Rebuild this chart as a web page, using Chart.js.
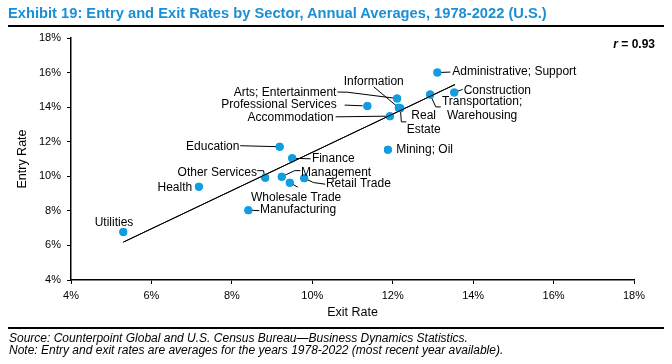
<!DOCTYPE html>
<html><head><meta charset="utf-8">
<script src="https://cdn.jsdelivr.net/npm/chart.js@4"></script>
<style>
html,body{margin:0;padding:0;background:#fff;}
#wrap{position:relative;width:672px;height:364px;overflow:hidden;font-family:"Liberation Sans",Arial,sans-serif;}
#c{position:absolute;left:0;top:0;}
.t{position:absolute;white-space:nowrap;line-height:1;}
#title{left:8px;top:6px;font-size:14.7px;font-weight:bold;color:#1a8fd5;}
.rule{position:absolute;left:8px;width:656px;height:2px;background:#000;}
#rv{right:17px;top:38px;font-size:12px;font-weight:bold;}
.foot{left:9px;font-size:12px;font-style:italic;color:#000;}
</style></head>
<body><div id="wrap">
<canvas id="c" width="672" height="364"></canvas>
<div class="t" id="title">Exhibit 19: Entry and Exit Rates by Sector, Annual Averages, 1978-2022 (U.S.)</div>
<div class="rule" style="top:25px"></div>
<div class="t" id="rv"><i>r</i> = 0.93</div>
<div class="rule" style="top:327px"></div>
<div class="t foot" style="top:332px">Source: Counterpoint Global and U.S. Census Bureau—Business Dynamics Statistics.</div>
<div class="t foot" style="top:344px">Note: Entry and exit rates are averages for the years 1978-2022 (most recent year available).</div>
</div>
<script>
// ---- data ----
const sectors = ["Administrative; Support","Construction","Transportation; Warehousing","Arts; Entertainment","Information","Real Estate","Professional Services","Accommodation","Mining; Oil","Education","Finance","Other Services","Management","Wholesale Trade","Retail Trade","Health","Manufacturing","Utilities"];
const exitRate  = [13.11,13.53,12.93,12.11,12.15,12.19,11.37,11.93,11.88,9.19,9.50,8.83,9.24,9.44,9.80,7.18,8.41,5.30];
const entryRate = [16.00,14.85,14.73,14.50,13.96,13.93,14.06,13.48,11.54,11.71,11.04,9.92,9.98,9.63,9.89,9.40,8.04,6.77];
const trendX = [5.30,13.55];
const trendY = [6.19,15.31];
const xTickLabels = ["4%","6%","8%","10%","12%","14%","16%","18%"];
const yTickLabels = ["4%","6%","8%","10%","12%","14%","16%","18%"];

// ---- label layout (pixel offsets from each point) ----
const labelLayout = [
  {lines:["Administrative; Support"], dx:15, dy:-0.6, align:"left", leader:[[0,0],[13,-0.5]]},
  {lines:["Construction"], dx:9.4, dy:-2, align:"left", leader:[[0,0],[8.4,-3]]},
  {lines:["Transportation;","Warehousing"], dx:52, dy:6.7, align:"center", leader:[[0,0],[5.7,12.4],[10.7,12.4]]},
  {lines:["Arts; Entertainment"], dx:-60.7, dy:-5.8, align:"right", leader:[[-59.7,-6.5],[-50,-6.3],[0,0]]},
  {lines:["Information"], dx:-25, dy:-26, align:"center", leader:[[-25,-21],[0,0]]},
  {lines:["Real","Estate"], dx:23.3, dy:7.8, align:"center", leader:[[0,0],[1,13.5],[6,13.5]]},
  {lines:["Professional Services"], dx:-30.7, dy:-1, align:"right", leader:[[-22.7,-1],[-4.7,-0.3]]},
  {lines:["Accommodation"], dx:-56.3, dy:1.7, align:"right", leader:[[-54.3,0.7],[0,0]]},
  {lines:["Mining; Oil"], dx:8.4, dy:0, align:"left", leader:null},
  {lines:["Education"], dx:-40.3, dy:0, align:"right", leader:[[-39.5,-1],[0,0]]},
  {lines:["Finance"], dx:19.7, dy:0.7, align:"left", leader:[[0,0],[18.5,0.5]]},
  {lines:["Other Services"], dx:-8.3, dy:-5.4, align:"right", leader:[[-8,-7],[-1.7,-7],[-1,-2.7]]},
  {lines:["Management"], dx:19.4, dy:-4.4, align:"left", leader:[[18.7,-6],[13,-6],[3.7,-1.7]]},
  {lines:["Wholesale Trade"], dx:6.4, dy:15, align:"center", leader:[[8,4.5],[0,0]]},
  {lines:["Retail Trade"], dx:21.7, dy:6, align:"left", leader:[[0,0],[9.3,4.4],[21,6]]},
  {lines:["Health"], dx:-6.7, dy:1, align:"right", leader:null},
  {lines:["Manufacturing"], dx:11.7, dy:0, align:"left", leader:[[0,0],[11,0.5]]},
  {lines:["Utilities"], dx:-9.3, dy:-9.6, align:"center", leader:null}
];

const labelPlugin = {
  id:"labels",
  afterDatasetsDraw(chart){
    const ctx = chart.ctx;
    const meta = chart.getDatasetMeta(1);
    ctx.save();
    ctx.strokeStyle = "#000"; ctx.lineWidth = 1;
    ctx.font = '12px "Liberation Sans", Arial, sans-serif';
    ctx.fillStyle = "#000"; ctx.textBaseline = "middle";
    meta.data.forEach((pt, i) => {
      const L = labelLayout[i];
      if (L.leader){
        ctx.beginPath();
        L.leader.forEach((p,k)=>{ const x=pt.x+p[0], y=pt.y+p[1]; k?ctx.lineTo(x,y):ctx.moveTo(x,y); });
        ctx.stroke();
      }
    });
    // redraw points over leaders
    meta.data.forEach(pt=>{
      ctx.beginPath(); ctx.arc(pt.x,pt.y,4,0,Math.PI*2); ctx.fillStyle="#119ddf"; ctx.fill();
    });
    ctx.fillStyle = "#000";
    meta.data.forEach((pt, i) => {
      const L = labelLayout[i];
      ctx.textAlign = L.align;
      L.lines.forEach((s,k)=> ctx.fillText(s, pt.x+L.dx, pt.y+L.dy+k*14));
    });
    // trend line on top
    const tm = chart.getDatasetMeta(0);
    ctx.beginPath(); ctx.moveTo(tm.data[0].x, tm.data[0].y); ctx.lineTo(tm.data[1].x, tm.data[1].y);
    ctx.strokeStyle="#000"; ctx.lineWidth=1; ctx.stroke();
    ctx.restore();
  }
};

const axisCommon = (labels)=>({
  type:"linear", min:4, max:18,
  border:{display:true,color:"#000",width:1.5},
  grid:{drawOnChartArea:false,drawTicks:true,tickLength:4,color:"#000",tickWidth:1},
  ticks:{stepSize:2,color:"#000",font:{family:'"Liberation Sans", Arial, sans-serif',size:11},
         callback:(v,i)=>labels[i]}
});

const xs = axisCommon(xTickLabels);
xs.ticks.padding = 5; xs.ticks.maxRotation = 0;
xs.afterFit = s => { s.height = 84; };
xs.title = {display:true,text:"Exit Rate",color:"#000",font:{family:'"Liberation Sans", Arial, sans-serif',size:12.5},padding:{top:0,bottom:44.4}};
const ys = axisCommon(yTickLabels);
ys.ticks.padding = 6;
ys.afterFit = s => { s.width = 71; };
ys.title = {display:true,text:"Entry Rate",color:"#000",font:{family:'"Liberation Sans", Arial, sans-serif',size:12.5},padding:{top:15,bottom:0}};

new Chart(document.getElementById("c"), {
  type:"scatter",
  data:{datasets:[
    {type:"line", data:trendX.map((x,i)=>({x, y:trendY[i]})), borderColor:"#000", borderWidth:1, pointRadius:0, fill:false},
    {data:exitRate.map((x,i)=>({x, y:entryRate[i]})), backgroundColor:"#119ddf", borderWidth:0, pointRadius:4}
  ]},
  options:{
    responsive:false, animation:false, devicePixelRatio:1,
    layout:{padding:{left:0,top:38,right:38,bottom:0}},
    plugins:{legend:{display:false},tooltip:{enabled:false}},
    scales:{x:xs,y:ys}
  },
  plugins:[labelPlugin]
});
</script>
</body></html>
